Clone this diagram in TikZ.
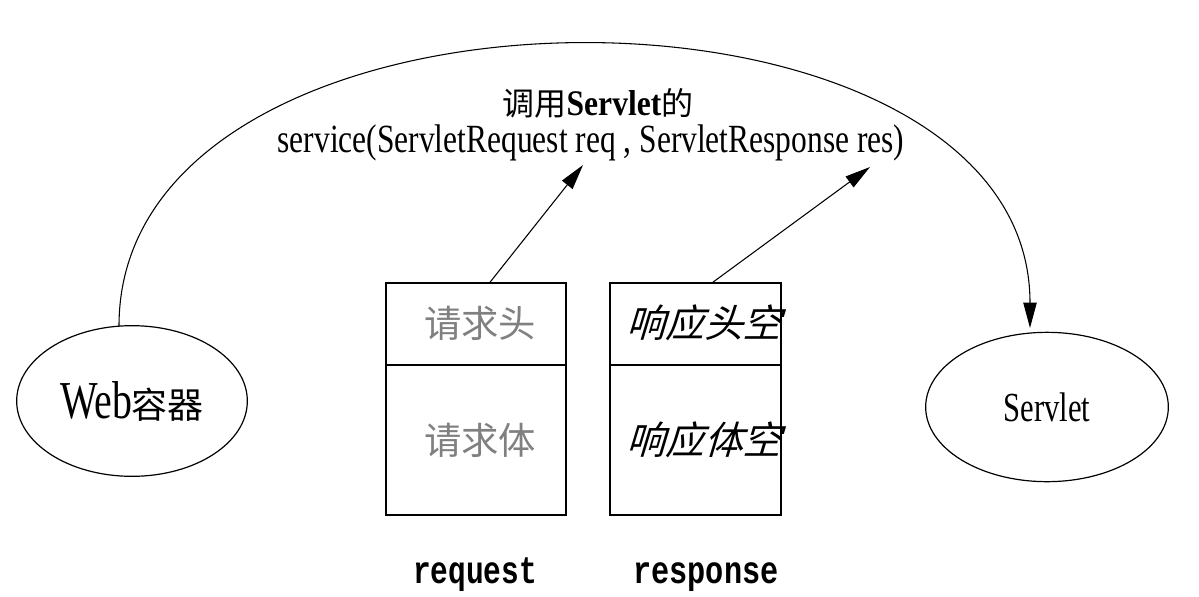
\documentclass[tikz,border=0pt]{standalone}
\usepackage{fontspec}
\setmainfont{Liberation Serif}
\newfontfamily\cjk{Noto Sans CJK SC}
\newfontfamily\cjksl[FakeSlant=0.3]{Noto Sans CJK SC}
\newfontfamily\monof{Liberation Mono}
\usetikzlibrary{shapes.geometric,arrows.meta}
\newcommand{\fitw}[2]{\resizebox{#1}{\height}{#2}}
\begin{document}
\begin{tikzpicture}[x=0.75pt,y=-0.75pt,
  oval/.style={ellipse,draw=black,line width=0.9pt,inner sep=0pt},
  cell/.style={rectangle,draw=black,line width=1.1pt,inner sep=0pt},
  conn/.style={draw=black,line width=0.8pt,-{Triangle[length=19pt,width=10pt]}},
  cjkgray/.style={text=black!50,font=\cjk\fontsize{28pt}{32pt}\selectfont},
  cjkital/.style={text=black,font=\cjksl\fontsize{29pt}{32pt}\selectfont},
  lbl/.style={font=\monof\bfseries\fontsize{29pt}{32pt}\selectfont}]
\useasboundingbox (0,0) rectangle (1199,596);
\fill[white] (0,0) rectangle (1199,596);

% ellipses
\node[oval,minimum width=173pt,minimum height=113pt] (web) at (132,401)
  {\fitw{54pt}{\fontsize{40pt}{42pt}\selectfont Web}{\cjk\fontsize{27pt}{30pt}\selectfont 容器}};
\node[oval,minimum width=182pt,minimum height=112pt] (srv) at (1047,407)
  {\fitw{65pt}{\fontsize{31pt}{34pt}\selectfont Servlet}};

% boxes
\node[cell,minimum width=135pt,minimum height=61.5pt] (rqh) at (476,324) {};
\node[cell,minimum width=135pt,minimum height=112.5pt] (rqb) at (476,440) {};
\node[cell,minimum width=128.25pt,minimum height=61.5pt] (rsh) at (695.5,324) {};
\node[cell,minimum width=128.25pt,minimum height=112.5pt] (rsb) at (695.5,440) {};

% box texts
\node[cjkgray] (rqht) at (480,323) {请求头};
\node[cjkgray] (rqbt) at (480,440) {请求体};
\node[cjkital] (rsht) at (704,323) {响应头空};
\node[cjkital] (rsbt) at (704,440) {响应体空};

% labels under boxes
\node[lbl,anchor=base] (rql) at (475,583) {\fitw{93pt}{request}};
\node[lbl,anchor=base] (rsl) at (706,583) {\fitw{109pt}{response}};

% title
\node[anchor=base] (tl1) at (598,115)
  {{\cjk\fontsize{24pt}{28pt}\selectfont 调用}\fitw{71pt}{\fontsize{27pt}{30pt}\selectfont\bfseries Servlet}{\cjk\fontsize{24pt}{28pt}\selectfont 的}};
\node[anchor=base] (tl2) at (591,152)
  {\fitw{470pt}{\fontsize{30pt}{32pt}\selectfont service(ServletRequest req , ServletResponse res)}};

% arrow targets
\coordinate (a1) at (583,165);
\coordinate (a2) at (870,167);
\coordinate (cs) at (119,326);
\coordinate (ce) at (1030,328);

% connectors
\draw[conn] ([xshift=10.5pt]rqh.north) -- (a1);
\draw[conn] ([xshift=13pt]rsh.north) -- (a2);
\draw[conn] (cs) .. controls (119,-48) and (1030,-48) .. (ce);
\end{tikzpicture}
\end{document}
